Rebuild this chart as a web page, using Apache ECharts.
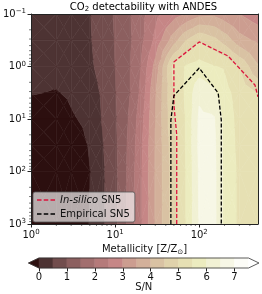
<!DOCTYPE html>
<html><head><meta charset="utf-8">
<script src="https://cdn.jsdelivr.net/npm/echarts@6/dist/echarts.min.js"></script>
<style>html,body{margin:0;padding:0;background:#fff}#c{width:262px;height:294px}</style>
</head><body><div id="c"></div>
<script>
// ---------------- data ----------------
const metallicity = [1, 2, 3, 5, 7, 10, 15, 20, 30, 50, 70, 100, 150, 200, 300, 500];
const pressure = [0.1, 0.316, 1, 3.16, 10, 31.6, 100, 1000];
// S/N values, one row per pressure
const snP0 = [0.25, 0.30, 0.38, 0.48, 0.74, 1.05, 1.47, 1.82, 2.36, 2.78, 3.02, 3.35, 3.40, 3.20, 3.00, 2.70];
const snP1 = [0.20, 0.28, 0.36, 0.46, 0.71, 1.02, 1.44, 1.83, 2.62, 3.78, 4.50, 4.95, 4.65, 4.30, 3.69, 3.40];
const snP2 = [0.15, 0.20, 0.28, 0.42, 0.65, 1.00, 1.49, 1.98, 3.17, 5.20, 5.55, 5.70, 5.52, 5.45, 4.97, 4.05];
const snP3 = [0.03, -0.03, 0.08, 0.30, 0.55, 0.97, 1.49, 2.08, 3.44, 5.02, 5.60, 6.40, 6.10, 5.65, 5.30, 4.97];
const snP4 = [-0.30, -0.30, -0.06, 0.12, 0.52, 0.93, 1.58, 2.25, 3.49, 4.97, 5.55, 6.60, 6.55, 5.85, 5.30, 5.15];
const snP5 = [-0.50, -0.50, -0.30, 0.04, 0.45, 0.90, 1.65, 2.35, 3.52, 4.85, 5.55, 6.62, 6.62, 5.86, 5.35, 5.12];
const snP6 = [-0.80, -0.70, -0.40, -0.01, 0.40, 0.88, 1.68, 2.39, 3.53, 4.79, 5.52, 6.58, 6.65, 5.86, 5.40, 5.15];
const snP7 = [-1.00, -0.80, -0.40, 0.02, 0.40, 0.88, 1.68, 2.39, 3.53, 4.79, 5.52, 6.55, 6.65, 5.86, 5.40, 5.15];
const snRows = [snP0, snP1, snP2, snP3, snP4, snP5, snP6, snP7];
const levels = [0, 0.5, 1, 1.5, 2, 2.5, 3, 3.5, 4, 4.5, 5, 5.5, 6, 6.5, 7, 7.5];
const cbTicks = [0, 1, 2, 3, 4, 5, 6, 7];
const xMajorTicks = [1, 10, 100];
const yMajorTicks = [0.1, 1, 10, 100, 1000];
const inSilicoZ = [54, 54, 50, 50, 100, 220, 460, 500];
const inSilicoP = [1000, 20, 5.4, 0.82, 0.34, 0.63, 2.25, 3.8];
const empiricalZ = [46, 46, 50, 100, 168, 183, 183];
const empiricalP = [1000, 10.5, 3.6, 1.07, 3.2, 10.5, 1000];

// ---------------- styling helpers ----------------
const FF = 'DejaVu Sans';
const X_MIN = 1, X_MAX = 500, Y_MIN = 0.1, Y_MAX = 1000;
function pinkRGB(t) {
  const h = [t < 0.365079 ? 0.0416 + 0.9584 * t / 0.365079 : 1,
             t < 0.365079 ? 0 : (t < 0.746032 ? (t - 0.365079) / 0.380953 : 1),
             t < 0.746032 ? 0 : (t - 0.746032) / 0.253968];
  return h.map(v => Math.sqrt((2 * t + v) / 3));
}
function cmap(t) {
  const c = pinkRGB(Math.max(0, Math.min(1, t))).map(x => Math.round(255 * (x * 0.94 + 0.06)));
  return 'rgb(' + c.join(',') + ')';
}
const vmax = levels[levels.length - 1];
const bounds = [-1e9].concat(levels, [1e9]);
const bandColors = [cmap(0)];
for (let k = 0; k < levels.length - 1; k++) bandColors.push(cmap((levels[k] + levels[k + 1]) / 2 / vmax));
bandColors.push(cmap(1));

function clipBy(poly, t, above) {
  const out = [];
  for (let i = 0; i < poly.length; i++) {
    const a = poly[i], b = poly[(i + 1) % poly.length];
    const ia = above ? a[2] >= t : a[2] <= t;
    const ib = above ? b[2] >= t : b[2] <= t;
    if (ia) out.push(a);
    if (ia !== ib) {
      const s = (t - a[2]) / (b[2] - a[2]);
      out.push([a[0] + s * (b[0] - a[0]), a[1] + s * (b[1] - a[1]), t]);
    }
  }
  return out;
}

const cells = [];
for (let j = 0; j < pressure.length - 1; j++)
  for (let i = 0; i < metallicity.length - 1; i++)
    cells.push([metallicity[i], pressure[j], i, j]);

function renderCell(params, api) {
  const i = api.value(2), j = api.value(3);
  const lx0 = Math.log10(metallicity[i]), lx1 = Math.log10(metallicity[i + 1]);
  const ly0 = Math.log10(pressure[j]), ly1 = Math.log10(pressure[j + 1]);
  const A = [lx0, ly0, snRows[j][i]], B = [lx1, ly0, snRows[j][i + 1]];
  const C = [lx1, ly1, snRows[j + 1][i + 1]], D = [lx0, ly1, snRows[j + 1][i]];
  const M = [(lx0 + lx1) / 2, (ly0 + ly1) / 2, (A[2] + B[2] + C[2] + D[2]) / 4];
  const tris = [[A, B, M], [B, C, M], [C, D, M], [D, A, M]];
  const children = [];
  for (const tri of tris) {
    for (let k = 0; k < bounds.length - 1; k++) {
      let p = clipBy(tri, bounds[k], true);
      if (p.length < 3) continue;
      p = clipBy(p, bounds[k + 1], false);
      if (p.length < 3) continue;
      const pts = p.map(q => api.coord([Math.pow(10, q[0]), Math.pow(10, q[1])]));
      children.push({ type: 'polygon', shape: { points: pts },
        style: { fill: bandColors[k], stroke: bandColors[k], lineWidth: 0.6 } });
    }
  }
  return { type: 'group', children };
}

// minor tick positions (axis decoration)
const xMinor = [], yMinor = [];
[1, 10, 100].forEach(d => { for (let m = 2; m <= 9; m++) if (m * d < X_MAX) xMinor.push([m * d, 1]); });
[0.1, 1, 10, 100].forEach(d => { for (let m = 2; m <= 9; m++) yMinor.push([1, m * d]); });

function inside(v, lo, hi) { return Math.min(Math.max(v, lo * 1.000001), hi * 0.999999); }
function supFmt(v) {
  const e = Math.round(Math.log10(v));
  return '{b|10}{p|' + (e < 0 ? '\u2212' : '') + Math.abs(e) + '}';
}
const supRich = {
  b: { fontSize: 10, fontFamily: FF, color: '#111' },
  p: { fontSize: 7, fontFamily: FF, color: '#111', padding: [0, 0, 5, 0] }
};
const dashIcon = 'path://M0,0h4v1h-4z M6,0h4v1h-4z M12,0h4v1h-4z';

const cbData = [];
cbData.push([levels[0] - 0.05 * vmax, levels[0], -1, 0]);
for (let k = 0; k < levels.length - 1; k++) cbData.push([levels[k], levels[k + 1], 0, k + 1]);
cbData.push([vmax, vmax + 0.05 * vmax, 1, levels.length]);

const chart = echarts.init(document.getElementById('c'), null, { renderer: 'canvas' });
chart.setOption({
  animation: false,
  backgroundColor: '#fff',
  title: {
    text: 'CO{s|2} detectability with ANDES', left: 143.5, textAlign: 'center', top: 1, padding: 0,
    textStyle: { fontSize: 10, fontWeight: 'normal', fontFamily: FF, color: '#000',
      rich: { s: { fontSize: 7, fontFamily: FF, color: '#000', padding: [5, 0, 0, 0] } } }
  },
  legend: {
    left: 33, top: 192, orient: 'vertical', itemWidth: 18, itemHeight: 1.6, itemGap: 4,
    symbolKeepAspect: false,
    padding: [3, 5, 3, 4], backgroundColor: 'rgba(255,255,255,0.66)', borderColor: '#555',
    borderWidth: 0.8, borderRadius: 2,
    data: [{ name: 'In-silico SN5', icon: dashIcon }, { name: 'Empirical SN5', icon: dashIcon }],
    formatter: n => n === 'In-silico SN5' ? '{it|In-silico} SN5' : n,
    textStyle: { fontSize: 10, fontFamily: FF, color: '#111',
      rich: { it: { fontStyle: 'italic', fontSize: 10, fontFamily: FF, color: '#111' } } }
  },
  grid: [
    { left: 29, top: 14, width: 229, height: 210 },
    { left: 39, top: 258, width: 209.5, height: 10 }
  ],
  xAxis: [
    { type: 'log', gridIndex: 0, min: X_MIN, max: X_MAX, position: 'bottom', z: 10,
      axisLine: { show: true, lineStyle: { color: '#222', width: 1 } },
      axisTick: { show: true, inside: false, length: 3.5, customValues: xMajorTicks.map(v => inside(v, X_MIN, X_MAX)), lineStyle: { color: '#222' } },
      axisLabel: { customValues: xMajorTicks.map(v => inside(v, X_MIN, X_MAX)), formatter: supFmt, rich: supRich, margin: 5 },
      splitLine: { show: false }, minorTick: { show: false },
      name: 'Metallicity [Z/Z{s|\u2299}]', nameLocation: 'middle', nameGap: 14,
      nameTextStyle: { fontSize: 10, fontFamily: FF, color: '#111',
        rich: { s: { fontSize: 7, fontFamily: FF, color: '#111', padding: [5, 0, 0, 0] } } } },
    { type: 'value', gridIndex: 0, min: 0, max: 1, position: 'top', z: 10,
      axisLine: { show: true, lineStyle: { color: '#222', width: 1 } },
      axisTick: { show: false }, axisLabel: { show: false }, splitLine: { show: false } },
    { type: 'value', gridIndex: 1, min: 0, max: vmax, position: 'bottom',
      axisLine: { show: false },
      axisTick: { show: true, length: 3.5, customValues: cbTicks, lineStyle: { color: '#222' } },
      axisLabel: { customValues: cbTicks, fontSize: 10, fontFamily: FF, color: '#111', margin: 4 },
      splitLine: { show: false },
      name: 'S/N', nameLocation: 'middle', nameGap: 13,
      nameTextStyle: { fontSize: 10, fontFamily: FF, color: '#111' } }
  ],
  yAxis: [
    { type: 'log', gridIndex: 0, min: Y_MIN, max: Y_MAX, inverse: true, position: 'left', z: 10,
      axisLine: { show: true, lineStyle: { color: '#222', width: 1 } },
      axisTick: { show: true, inside: false, length: 3.5, customValues: yMajorTicks.map(v => inside(v, Y_MIN, Y_MAX)), lineStyle: { color: '#222' } },
      axisLabel: { customValues: yMajorTicks.map(v => inside(v, Y_MIN, Y_MAX)), formatter: supFmt, rich: supRich, margin: 5 },
      splitLine: { show: false }, minorTick: { show: false } },
    { type: 'value', gridIndex: 0, min: 0, max: 1, position: 'right', z: 10,
      axisLine: { show: true, lineStyle: { color: '#222', width: 1 } },
      axisTick: { show: false }, axisLabel: { show: false }, splitLine: { show: false } },
    { type: 'value', gridIndex: 1, min: 0, max: 1, show: false }
  ],
  series: [
    { type: 'custom', name: 'S/N field', xAxisIndex: 0, yAxisIndex: 0, z: 1, silent: true,
      clip: true, data: cells, encode: { x: 0, y: 1 }, renderItem: renderCell },
    { type: 'custom', name: 'xminor', xAxisIndex: 0, yAxisIndex: 0, z: 11, silent: true, clip: false,
      data: xMinor, encode: { x: 0, y: 1 },
      renderItem: (params, api) => {
        const p = api.coord([api.value(0), api.value(1)]);
        const yb = params.coordSys.y + params.coordSys.height;
        return { type: 'line', shape: { x1: p[0], y1: yb, x2: p[0], y2: yb + 2 }, style: { stroke: '#222', lineWidth: 0.6 } };
      } },
    { type: 'custom', name: 'yminor', xAxisIndex: 0, yAxisIndex: 0, z: 11, silent: true, clip: false,
      data: yMinor, encode: { x: 0, y: 1 },
      renderItem: (params, api) => {
        const p = api.coord([api.value(0), api.value(1)]);
        const xl = params.coordSys.x;
        return { type: 'line', shape: { x1: xl - 2, y1: p[1], x2: xl, y2: p[1] }, style: { stroke: '#222', lineWidth: 0.6 } };
      } },
    { type: 'line', name: 'In-silico SN5', xAxisIndex: 0, yAxisIndex: 0, z: 5, symbol: 'none',
      data: inSilicoZ.map((z, i) => [z, inSilicoP[i]]),
      lineStyle: { color: '#dc143c', width: 1.3, type: [4, 2] }, itemStyle: { color: '#dc143c' } },
    { type: 'line', name: 'Empirical SN5', xAxisIndex: 0, yAxisIndex: 0, z: 5, symbol: 'none',
      data: empiricalZ.map((z, i) => [z, empiricalP[i]]),
      lineStyle: { color: '#000', width: 1.3, type: [4, 2] }, itemStyle: { color: '#000' } },
    { type: 'custom', name: 'colorbar', xAxisIndex: 2, yAxisIndex: 2, silent: true, clip: false,
      data: cbData, encode: { x: [0, 1], y: 3 },
      renderItem: (params, api) => {
        const lo = api.value(0), hi = api.value(1), kind = api.value(2), k = api.value(3);
        const a = api.coord([lo, 0]), b = api.coord([hi, 1]);
        const fill = bandColors[k];
        let pts;
        if (kind === 0) pts = [[a[0], a[1]], [b[0], a[1]], [b[0], b[1]], [a[0], b[1]]];
        else if (kind < 0) pts = [[a[0], (a[1] + b[1]) / 2], [b[0], a[1]], [b[0], b[1]]];
        else pts = [[a[0], a[1]], [b[0], (a[1] + b[1]) / 2], [a[0], b[1]]];
        return { type: 'polygon', shape: { points: pts }, style: { fill, stroke: fill, lineWidth: 0.5 } };
      } },
    { type: 'custom', name: 'cbOutline', xAxisIndex: 2, yAxisIndex: 2, silent: true, clip: false, z: 3,
      data: [[levels[0], vmax]], encode: { x: [0, 1] },
      renderItem: (params, api) => {
        const l = api.value(0), r = api.value(1), e = 0.05 * vmax;
        const tl = api.coord([l, 1]), br = api.coord([r, 0]);
        const tipL = api.coord([l - e, 0.5]), tipR = api.coord([r + e, 0.5]);
        return { type: 'polygon', shape: { points: [tipL, [tl[0], tl[1]], [br[0], tl[1]], tipR, [br[0], br[1]], [tl[0], br[1]]] },
          style: { fill: 'none', stroke: '#333', lineWidth: 0.8 } };
      } }
  ]
});
</script></body></html>
